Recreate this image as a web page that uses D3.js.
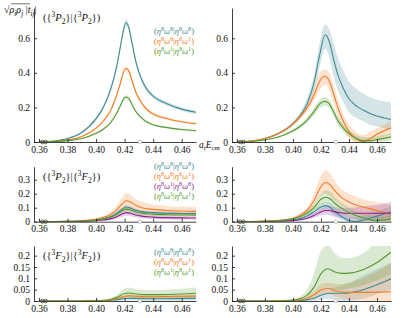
<!DOCTYPE html>
<html>
<head>
<meta charset="utf-8">
<script src="https://cdn.jsdelivr.net/npm/d3@7"></script>
<style>
  body { margin: 0; background: #fff; }
  svg { display: block; font-family: "Liberation Serif", "DejaVu Serif", serif; }
</style>
</head>
<body>
<svg id="chart" width="416" height="318"></svg>
<script>
// ---- data ----
var xTicks = [0.36, 0.38, 0.40, 0.42, 0.44, 0.46];
var yTicksTop = [0, 0.2, 0.4, 0.6];
var yTicksMid = [0, 0.1, 0.2, 0.3];
var yTicksBot = [0, 0.05, 0.1, 0.15, 0.2];
var thresholds = [0.3623, 0.3646];
var openThreshold = [0.4306];

var legend3 = ['88|88', '88|81', '81|81'];
var legend4 = ['88|88', '88|81', '81|88', '81|81'];

// top left  ({3P2}|{3P2})
var xTL = [0.36,0.37,0.38,0.39,0.40,0.405,0.41,0.414,0.417,0.419,0.421,0.423,0.425,0.428,0.432,0.436,0.44,0.45,0.46,0.47];
var tlTeal = [0,0.005,0.02,0.055,0.135,0.2,0.3,0.42,0.55,0.64,0.69,0.66,0.58,0.46,0.36,0.3,0.265,0.22,0.19,0.172];
var tlTealErr = [0,0.001,0.003,0.006,0.01,0.012,0.014,0.016,0.018,0.02,0.02,0.02,0.018,0.016,0.014,0.012,0.012,0.011,0.01,0.01];
var tlOrange = [0,0.003,0.012,0.032,0.08,0.12,0.18,0.26,0.34,0.4,0.425,0.41,0.36,0.285,0.225,0.185,0.162,0.135,0.117,0.106];
var tlOrangeErr = [0,0.001,0.002,0.004,0.006,0.008,0.009,0.01,0.012,0.012,0.012,0.012,0.011,0.01,0.009,0.008,0.008,0.007,0.006,0.006];
var tlGreen = [0,0.002,0.008,0.02,0.05,0.074,0.11,0.16,0.21,0.245,0.26,0.25,0.22,0.175,0.138,0.114,0.1,0.083,0.072,0.065];
var tlGreenErr = [0,0.001,0.002,0.003,0.005,0.006,0.007,0.008,0.009,0.01,0.01,0.01,0.009,0.008,0.007,0.006,0.006,0.005,0.005,0.005];

// top right
var xTR = [0.36,0.37,0.38,0.39,0.40,0.405,0.41,0.415,0.419,0.423,0.426,0.429,0.432,0.436,0.44,0.445,0.45,0.455,0.46,0.47];
var trTeal = [0,0.005,0.02,0.05,0.105,0.15,0.22,0.34,0.5,0.62,0.58,0.48,0.39,0.31,0.25,0.21,0.185,0.165,0.15,0.13];
var trTealLo = [0,0.004,0.017,0.044,0.094,0.135,0.195,0.29,0.43,0.54,0.49,0.38,0.3,0.23,0.17,0.14,0.12,0.1,0.09,0.07];
var trTealHi = [0,0.006,0.023,0.057,0.118,0.168,0.25,0.39,0.57,0.68,0.65,0.57,0.49,0.41,0.35,0.31,0.28,0.26,0.245,0.23];
var trOrange = [0,0.005,0.02,0.05,0.105,0.145,0.195,0.27,0.35,0.38,0.35,0.28,0.2,0.12,0.06,0.02,0.002,0.02,0.045,0.082];
var trOrangeLo = [0,0.004,0.017,0.044,0.094,0.13,0.175,0.235,0.3,0.33,0.3,0.23,0.15,0.08,0.02,0,0,0,0.01,0.045];
var trOrangeHi = [0,0.006,0.023,0.056,0.116,0.16,0.215,0.305,0.4,0.42,0.4,0.33,0.25,0.16,0.1,0.06,0.04,0.06,0.08,0.12];
var trGreen = [0,0.003,0.012,0.03,0.065,0.09,0.125,0.175,0.22,0.235,0.22,0.175,0.125,0.08,0.048,0.022,0.008,0.008,0.014,0.03];
var trGreenLo = [0,0.002,0.009,0.025,0.056,0.078,0.11,0.155,0.195,0.21,0.195,0.15,0.1,0.06,0.03,0.005,0,0,0,0.01];
var trGreenHi = [0,0.004,0.015,0.035,0.074,0.102,0.14,0.195,0.245,0.26,0.245,0.2,0.15,0.1,0.066,0.04,0.028,0.028,0.034,0.05];

// middle left  ({3P2}|{3F2})
var xML = [0.36,0.37,0.38,0.39,0.40,0.405,0.41,0.415,0.419,0.421,0.424,0.428,0.432,0.44,0.45,0.46,0.47];
var mlTeal = [0,0.001,0.002,0.005,0.013,0.022,0.036,0.065,0.095,0.105,0.098,0.082,0.072,0.065,0.061,0.059,0.058];
var mlTealErr = [0,0,0.001,0.002,0.004,0.006,0.008,0.012,0.015,0.016,0.015,0.013,0.012,0.011,0.011,0.011,0.011];
var mlOrange = [0,0.001,0.003,0.007,0.018,0.03,0.05,0.09,0.135,0.15,0.14,0.115,0.1,0.088,0.08,0.076,0.074];
var mlOrangeErr = [0,0.001,0.002,0.003,0.008,0.012,0.02,0.035,0.05,0.055,0.052,0.045,0.04,0.035,0.033,0.032,0.032];
var mlPurple = [0,0,0.001,0.003,0.007,0.012,0.02,0.038,0.058,0.065,0.06,0.048,0.04,0.033,0.029,0.027,0.026];
var mlPurpleErr = [0,0,0.001,0.002,0.004,0.006,0.01,0.015,0.02,0.022,0.02,0.018,0.016,0.014,0.013,0.012,0.012];
var mlGreen = [0,0.001,0.002,0.004,0.011,0.018,0.03,0.055,0.082,0.09,0.085,0.07,0.061,0.054,0.05,0.048,0.047];
var mlGreenErr = [0,0,0.001,0.002,0.004,0.006,0.008,0.012,0.015,0.016,0.015,0.013,0.012,0.011,0.011,0.01,0.01];

// middle right
var xMR = [0.36,0.37,0.38,0.39,0.40,0.405,0.41,0.415,0.42,0.4235,0.427,0.43,0.435,0.44,0.445,0.45,0.46,0.47];
var mrTeal = [0,0.001,0.002,0.005,0.012,0.022,0.04,0.07,0.105,0.115,0.1,0.07,0.035,0.008,0.002,0.01,0.04,0.07];
var mrTealLo = [0,0,0.001,0.003,0.008,0.015,0.028,0.05,0.08,0.088,0.07,0.04,0.01,0,0,0,0.01,0.03];
var mrTealHi = [0,0.001,0.003,0.007,0.016,0.03,0.052,0.09,0.13,0.14,0.13,0.1,0.065,0.035,0.03,0.04,0.075,0.11];
var mrOrange = [0,0.001,0.004,0.01,0.025,0.045,0.08,0.15,0.25,0.28,0.26,0.22,0.17,0.14,0.12,0.105,0.08,0.05];
var mrOrangeLo = [0,0.001,0.003,0.008,0.02,0.035,0.06,0.11,0.19,0.2,0.18,0.15,0.11,0.08,0.06,0.045,0.02,0];
var mrOrangeHi = [0,0.001,0.005,0.013,0.032,0.058,0.1,0.2,0.33,0.37,0.34,0.29,0.23,0.2,0.18,0.16,0.14,0.12];
var mrPurple = [0,0,0.001,0.003,0.008,0.014,0.025,0.045,0.07,0.08,0.078,0.07,0.062,0.06,0.06,0.06,0.06,0.062];
var mrPurpleLo = [0,0,0,0.002,0.005,0.009,0.015,0.028,0.045,0.05,0.045,0.035,0.025,0.02,0.015,0.01,0.005,0];
var mrPurpleHi = [0,0,0.002,0.004,0.011,0.02,0.035,0.062,0.095,0.11,0.11,0.105,0.1,0.1,0.105,0.11,0.12,0.14];
var mrGreen = [0,0.001,0.003,0.008,0.02,0.035,0.06,0.1,0.16,0.175,0.16,0.13,0.095,0.065,0.045,0.03,0.008,0.02];
var mrGreenLo = [0,0.001,0.002,0.006,0.015,0.027,0.045,0.075,0.12,0.13,0.115,0.09,0.06,0.035,0.02,0.008,0,0];
var mrGreenHi = [0,0.001,0.004,0.01,0.025,0.045,0.075,0.125,0.2,0.225,0.21,0.175,0.135,0.1,0.075,0.055,0.035,0.045];

// bottom left  ({3F2}|{3F2})
var xBL = [0.36,0.38,0.39,0.40,0.405,0.41,0.415,0.42,0.423,0.428,0.435,0.44,0.45,0.46,0.47];
var blTeal = [0,0,0.0001,0.0004,0.001,0.003,0.006,0.011,0.012,0.011,0.01,0.01,0.01,0.011,0.012];
var blTealErr = [0,0,0,0.0004,0.001,0.003,0.005,0.008,0.009,0.009,0.009,0.009,0.009,0.01,0.01];
var blOrange = [0,0,0.0002,0.0008,0.002,0.005,0.012,0.021,0.023,0.021,0.019,0.019,0.02,0.021,0.022];
var blOrangeErr = [0,0,0.0001,0.0005,0.001,0.002,0.004,0.006,0.007,0.006,0.006,0.006,0.006,0.006,0.006];
var blGreen = [0,0,0.0003,0.001,0.003,0.007,0.018,0.033,0.035,0.031,0.028,0.028,0.029,0.031,0.034];
var blGreenErr = [0,0,0.0002,0.001,0.002,0.005,0.012,0.022,0.025,0.022,0.02,0.02,0.021,0.023,0.025];

// bottom right
var xBR = [0.36,0.38,0.39,0.40,0.405,0.41,0.415,0.42,0.425,0.43,0.435,0.44,0.45,0.46,0.47];
var brTeal = [0,0,0,0.001,0.002,0.005,0.012,0.025,0.033,0.034,0.034,0.036,0.05,0.072,0.098];
var brTealLo = [0,0,0,0,0,0,0,0.005,0.01,0.005,0,0,0.01,0.03,0.05];
var brTealHi = [0,0,0,0.002,0.005,0.012,0.03,0.05,0.055,0.06,0.07,0.08,0.11,0.14,0.17];
var brOrange = [0,0,0.0005,0.002,0.005,0.012,0.028,0.048,0.056,0.045,0.04,0.038,0.038,0.039,0.041];
var brOrangeLo = [0,0,0,0.001,0.003,0.006,0.015,0.028,0.032,0.02,0.01,0.005,0,0,0];
var brOrangeHi = [0,0,0.001,0.003,0.008,0.02,0.045,0.075,0.08,0.075,0.075,0.08,0.1,0.13,0.165];
var brGreen = [0,0,0.001,0.004,0.01,0.025,0.06,0.12,0.142,0.128,0.122,0.123,0.138,0.17,0.215];
var brGreenLo = [0,0,0,0.001,0.003,0.01,0.025,0.05,0.06,0.05,0.05,0.055,0.07,0.09,0.12];
var brGreenHi = [0,0,0.002,0.008,0.02,0.05,0.12,0.22,0.245,0.21,0.19,0.19,0.21,0.26,0.3];

// ---- styling ----
var colors = { teal: '#3f8a90', orange: '#f47a22', purple: '#8c1f8c', green: '#559a2c' };

function serLH(xs, v, lo, hi) {
  return xs.map(function(x, i) {
    return { x: x, v: v[i], lo: lo[i], hi: hi[i] };
  });
}
function serErr(xs, v, err) {
  return serLH(xs, v, v.map(function(d, i){ return Math.max(0, d - err[i]); }),
                      v.map(function(d, i){ return d + err[i]; }));
}

var panels = [
  { x0: 34, x1: 196, yb: 142, yt: 8, ymax: 0.775, ticks: yTicksTop, title: 'P', legend: legend3, legY: 31,
    series: [
      { c: 'teal', d: serErr(xTL, tlTeal, tlTealErr) },
      { c: 'orange', d: serErr(xTL, tlOrange, tlOrangeErr) },
      { c: 'green', d: serErr(xTL, tlGreen, tlGreenErr) }] },
  { x0: 232, x1: 391, yb: 142, yt: 8, ymax: 0.775, ticks: yTicksTop,
    series: [
      { c: 'teal', d: serLH(xTR, trTeal, trTealLo, trTealHi) },
      { c: 'orange', d: serLH(xTR, trOrange, trOrangeLo, trOrangeHi) },
      { c: 'green', d: serLH(xTR, trGreen, trGreenLo, trGreenHi) }] },
  { x0: 34, x1: 196, yb: 221.7, yt: 166.7, ymax: 0.393, ticks: yTicksMid, title: 'PF', legend: legend4, legY: 166,
    series: [
      { c: 'teal', d: serErr(xML, mlTeal, mlTealErr) },
      { c: 'orange', d: serErr(xML, mlOrange, mlOrangeErr) },
      { c: 'purple', d: serErr(xML, mlPurple, mlPurpleErr) },
      { c: 'green', d: serErr(xML, mlGreen, mlGreenErr) }] },
  { x0: 232, x1: 391, yb: 221.7, yt: 166.7, ymax: 0.393, ticks: yTicksMid,
    series: [
      { c: 'teal', d: serLH(xMR, mrTeal, mrTealLo, mrTealHi) },
      { c: 'orange', d: serLH(xMR, mrOrange, mrOrangeLo, mrOrangeHi) },
      { c: 'purple', d: serLH(xMR, mrPurple, mrPurpleLo, mrPurpleHi) },
      { c: 'green', d: serLH(xMR, mrGreen, mrGreenLo, mrGreenHi) }] },
  { x0: 34, x1: 196, yb: 301, yt: 246, ymax: 0.2426, ticks: yTicksBot, title: 'FF', legend: legend3, legY: 252,
    series: [
      { c: 'teal', d: serErr(xBL, blTeal, blTealErr) },
      { c: 'orange', d: serErr(xBL, blOrange, blOrangeErr) },
      { c: 'green', d: serErr(xBL, blGreen, blGreenErr) }] },
  { x0: 232, x1: 391, yb: 301, yt: 246, ymax: 0.2426, ticks: yTicksBot,
    series: [
      { c: 'teal', d: serLH(xBR, brTeal, brTealLo, brTealHi) },
      { c: 'orange', d: serLH(xBR, brOrange, brOrangeLo, brOrangeHi) },
      { c: 'green', d: serLH(xBR, brGreen, brGreenLo, brGreenHi) }] }
];

var svg = d3.select('#chart');
var legendColor = { '88|88': 'teal', '88|81': 'orange', '81|88': 'purple', '81|81': 'green' };

function rich(sel, parts, size) {
  parts.forEach(function(p) {
    var ts = sel.append('tspan').text(p.t);
    if (p.it) ts.style('font-style', 'italic');
    if (p.sub) ts.attr('baseline-shift', -size * 0.25).style('font-size', (size * 0.72) + 'px');
    if (p.sup) ts.attr('baseline-shift', size * 0.4).style('font-size', (size * 0.72) + 'px');
  });
}

var fmtY = function(d) { return d === 0 ? '0' : String(+d.toFixed(2)); };

panels.forEach(function(p, pi) {
  var x = d3.scaleLinear().domain([0.3565, 0.47]).range([p.x0, p.x1]);
  var y = d3.scaleLinear().domain([0, p.ymax]).range([p.yb, p.yt]);
  var g = svg.append('g');

  svg.append('clipPath').attr('id', 'clip' + pi)
    .append('rect').attr('x', p.x0).attr('y', p.yt).attr('width', p.x1 - p.x0).attr('height', p.yb - p.yt);

  var plot = g.append('g').attr('clip-path', 'url(#clip' + pi + ')');
  var area = d3.area().curve(d3.curveMonotoneX)
    .x(function(d){ return x(d.x); }).y0(function(d){ return y(d.lo); }).y1(function(d){ return y(d.hi); });
  var line = d3.line().curve(d3.curveMonotoneX)
    .x(function(d){ return x(d.x); }).y(function(d){ return y(d.v); });

  plot.selectAll('path.band').data(p.series).enter().append('path')
    .attr('class', 'band')
    .attr('d', function(s){ return area(s.d); })
    .style('fill', function(s){ return colors[s.c]; })
    .style('fill-opacity', 0.22)
    .style('stroke', 'none');
  plot.selectAll('path.ln').data(p.series).enter().append('path')
    .attr('class', 'ln')
    .attr('d', function(s){ return line(s.d); })
    .style('fill', 'none')
    .style('stroke', function(s){ return colors[s.c]; })
    .style('stroke-width', 1.1);

  // axes
  var xa = g.append('g').attr('transform', 'translate(0,' + p.yb + ')')
    .call(d3.axisBottom(x).tickValues(xTicks).tickFormat(d3.format('.2f')).tickSizeInner(-3).tickSizeOuter(0).tickPadding(4));
  var ya = g.append('g').attr('transform', 'translate(' + p.x0 + ',0)')
    .call(d3.axisLeft(y).tickValues(p.ticks).tickFormat(fmtY).tickSizeInner(-3).tickSizeOuter(0).tickPadding(4));
  [xa, ya].forEach(function(a) {
    a.attr('font-family', null);
    a.selectAll('text').style('font-family', '"Liberation Serif", serif').style('font-size', '9.5px').style('fill', '#111');
    a.selectAll('line, path').style('stroke', '#111').style('stroke-width', 0.8);
  });

  // threshold markers
  g.selectAll('circle.thr').data(thresholds).enter().append('circle')
    .attr('cx', function(d){ return x(d); }).attr('cy', y(0)).attr('r', 1.8)
    .style('fill', 'none').style('stroke', '#333').style('stroke-width', 0.7);
  g.selectAll('circle.op').data(openThreshold).enter().append('circle')
    .attr('cx', function(d){ return x(d); }).attr('cy', y(0)).attr('r', 1.8)
    .style('fill', '#fff').style('stroke', '#aaa').style('stroke-width', 0.7);

  if (p.title) {
    var a = p.title.length > 1 ? p.title.charAt(0) : 'P';
    var b = p.title.length > 1 ? p.title.charAt(1) : 'P';
    var t = g.append('text').attr('x', p.x0 + 9).attr('y', p.yt + 13).style('font-size', '10.5px').style('fill', '#111');
    rich(t, [{t: '({'}, {t: '3', sup: 1}, {t: a, it: 1}, {t: '2', sub: 1}, {t: '}|{'},
             {t: '3', sup: 1}, {t: b, it: 1}, {t: '2', sub: 1}, {t: '})'}], 10.5);
  }
  if (p.legend) {
    p.legend.forEach(function(k, i) {
      var q = k.split('|');
      var lt = g.append('text').attr('x', 194).attr('y', p.legY + 3 + i * 10)
        .attr('text-anchor', 'end').style('font-size', '8.5px').style('fill', colors[legendColor[k]]);
      rich(lt, [{t: '('}, {t: 'η', it: 1}, {t: q[0].charAt(0), sup: 1}, {t: 'ω', it: 1}, {t: q[0].charAt(1), sup: 1},
                {t: '|'}, {t: 'η', it: 1}, {t: q[1].charAt(0), sup: 1}, {t: 'ω', it: 1}, {t: q[1].charAt(1), sup: 1}, {t: ')'}], 8.5);
    });
  }
});

// y label and x label
var yl = svg.append('text').attr('x', 4).attr('y', 13).style('font-size', '10px').style('fill', '#111');
rich(yl, [{t: '√'}, {t: 'ρ', it: 1}, {t: 'i', it: 1, sub: 1}, {t: 'ρ', it: 1}, {t: 'j', it: 1, sub: 1},
          {t: ' |'}, {t: 't', it: 1}, {t: 'ij', it: 1, sub: 1}, {t: '|'}], 10);
svg.append('line').attr('x1', 11).attr('x2', 30).attr('y1', 3.8).attr('y2', 3.8)
  .style('stroke', '#111').style('stroke-width', 0.6);

var xl = svg.append('text').attr('x', 199).attr('y', 148).style('font-size', '9.5px').style('fill', '#111');
rich(xl, [{t: 'a', it: 1}, {t: 't', it: 1, sub: 1}, {t: 'E', it: 1}, {t: 'cm', sub: 1}], 9.5);
</script>
</body>
</html>
